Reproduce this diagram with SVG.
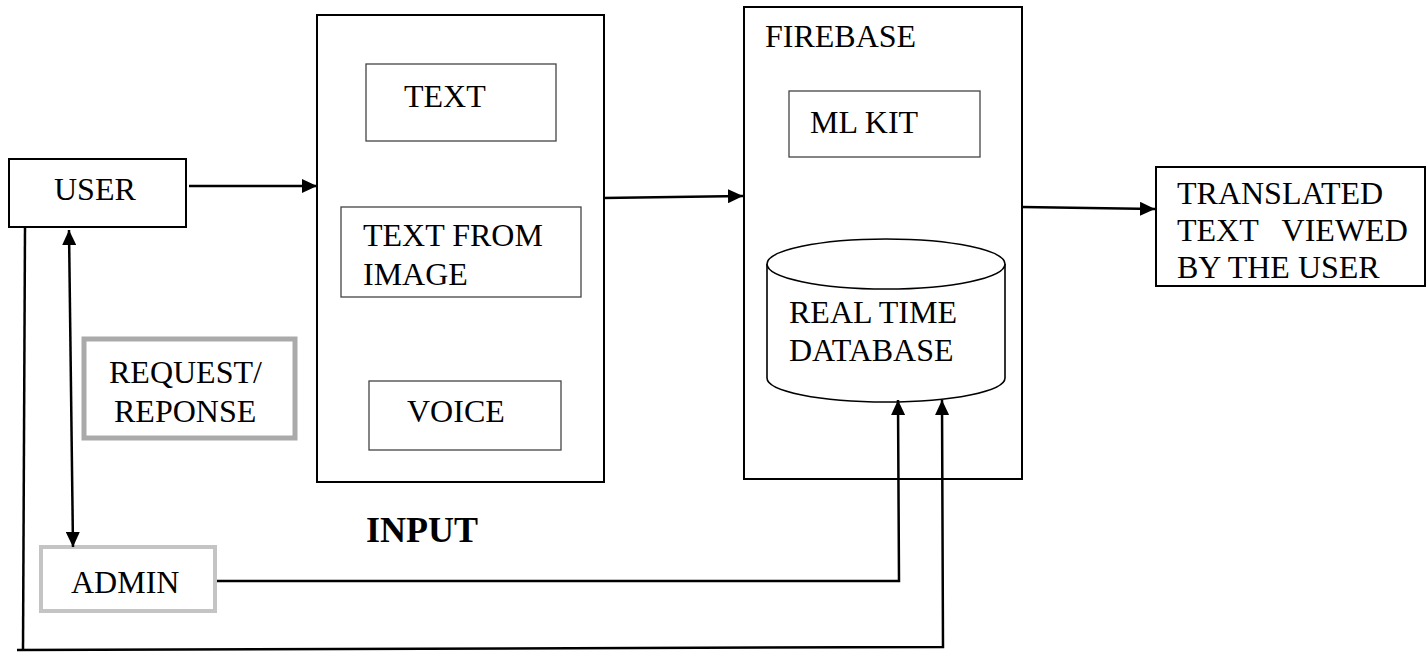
<svg xmlns="http://www.w3.org/2000/svg" width="1428" height="652" viewBox="0 0 1428 652">
<style>
  .t { font-family: "Liberation Serif", "Times New Roman", serif; font-size: 32px; fill: #000; }
  .b { font-family: "Liberation Serif", "Times New Roman", serif; font-size: 36px; font-weight: bold; fill: #000; }
  .main { fill: #fff; stroke: #000; stroke-width: 2; }
  .inner { fill: #fff; stroke: #444; stroke-width: 1.3; }
  .conn { fill: none; stroke: #000; stroke-width: 2.5; }
</style>
<defs>
  <marker id="ah" markerUnits="userSpaceOnUse" markerWidth="16" markerHeight="14" refX="15" refY="7" orient="auto-start-reverse">
    <path d="M0,0 L15,7 L0,14 z" fill="#000"/>
  </marker>
</defs>
<rect width="1428" height="652" fill="#fff"/>

<g id="user">
  <rect class="main" x="9" y="159" width="177" height="68"/>
  <text class="t" x="54" y="200">USER</text>
</g>

<g id="reqres">
  <rect x="84" y="339" width="211" height="99" fill="#fff" stroke="#aaaaaa" stroke-width="5"/>
  <text class="t" x="109" y="383">REQUEST/</text>
  <text class="t" x="114" y="422">REPONSE</text>
</g>

<g id="admin">
  <rect x="41" y="547" width="174" height="64" fill="#fff" stroke="#c4c4c4" stroke-width="4"/>
  <text class="t" x="71" y="593">ADMIN</text>
</g>

<g id="input">
  <rect class="main" x="317" y="15" width="287" height="467"/>
  <g id="text">
    <rect class="inner" x="366" y="64" width="190" height="77"/>
    <text class="t" x="404" y="107">TEXT</text>
  </g>
  <g id="textfromimage">
    <rect class="inner" x="341" y="207" width="240" height="90"/>
    <text class="t" x="363" y="246">TEXT FROM</text>
    <text class="t" x="363" y="285">IMAGE</text>
  </g>
  <g id="voice">
    <rect class="inner" x="369" y="381" width="192" height="69"/>
    <text class="t" x="407" y="422">VOICE</text>
  </g>
  <text class="b" x="366" y="542">INPUT</text>
</g>

<g id="firebase">
  <rect class="main" x="744" y="7" width="278" height="472"/>
  <text class="t" x="765" y="47">FIREBASE</text>
  <g id="mlkit">
    <rect class="inner" x="789" y="91" width="191" height="66"/>
    <text class="t" x="810" y="133">ML KIT</text>
  </g>
  <g id="database">
    <path d="M767,264 L767,378 A119,24 0 0 0 1005,378 L1005,264" fill="#fff" stroke="#000" stroke-width="1.6"/>
    <ellipse cx="886" cy="264" rx="119" ry="25" fill="#fff" stroke="#000" stroke-width="1.6"/>
    <text class="t" x="789" y="323">REAL TIME</text>
    <text class="t" x="789" y="361">DATABASE</text>
  </g>
</g>

<g id="translated">
  <rect class="main" x="1156" y="167" width="269" height="119" stroke-width="1.5"/>
  <text class="t" x="1177" y="204">TRANSLATED</text>
  <text class="t" x="1177" y="241" xml:space="preserve">TEXT   VIEWED</text>
  <text class="t" x="1177" y="278">BY THE USER</text>
</g>

<g id="connectors">
  <path class="conn" d="M189,186 L317,186" marker-end="url(#ah)"/>
  <path class="conn" d="M603,198 L743,196" marker-end="url(#ah)"/>
  <path class="conn" d="M1022,207 L1155,209" marker-end="url(#ah)"/>
  <path class="conn" d="M69,230 L73,547" marker-start="url(#ah)" marker-end="url(#ah)"/>
  <path class="conn" d="M217,581 L899,581 L898,400" marker-end="url(#ah)"/>
  <path class="conn" d="M25,227 L23,650"/>
  <path class="conn" d="M17,650 L943,647 L942,400" marker-end="url(#ah)"/>
</g>
</svg>
